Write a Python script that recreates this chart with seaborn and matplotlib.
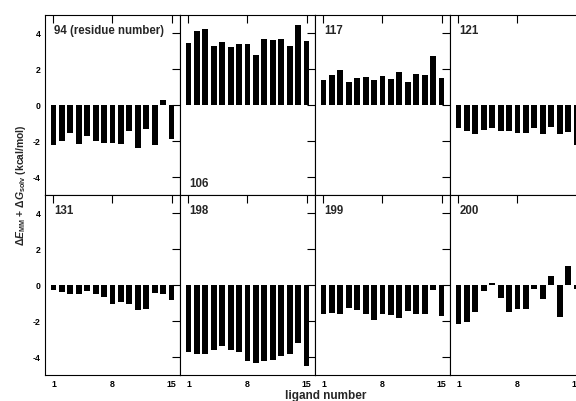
import numpy as np
import pandas as pd
import seaborn as sns
import matplotlib.pyplot as plt

# residue-wise energy contributions for ligands 1..15
ligands = list(range(1, 16))
residues = ["94", "106", "117", "121", "131", "198", "199", "200"]

r94 = [-2.21, -2.03, -1.55, -2.17, -1.73, -1.99, -2.12, -2.10, -2.19, -1.44, -2.38, -1.36, -2.21, 0.24, -1.92]
r106 = [3.43, 4.09, 4.19, 3.28, 3.46, 3.20, 3.39, 3.39, 2.78, 3.63, 3.57, 3.67, 3.24, 4.41, 3.56]
r117 = [1.39, 1.65, 1.93, 1.26, 1.46, 1.56, 1.39, 1.59, 1.43, 1.81, 1.24, 1.70, 1.65, 2.69, 1.46]
r121 = [-1.28, -1.44, -1.61, -1.41, -1.31, -1.44, -1.48, -1.56, -1.54, -1.28, -1.63, -1.26, -1.65, -1.52, -2.22]
r131 = [-0.28, -0.41, -0.50, -0.50, -0.35, -0.50, -0.68, -1.05, -0.94, -1.07, -1.38, -1.31, -0.44, -0.52, -0.83]
r198 = [-3.72, -3.81, -3.81, -3.59, -3.39, -3.63, -3.72, -4.22, -4.36, -4.20, -4.16, -3.94, -3.81, -3.22, -4.51]
r199 = [-1.64, -1.57, -1.64, -1.29, -1.42, -1.60, -1.92, -1.60, -1.68, -1.82, -1.47, -1.64, -1.64, -0.29, -1.71]
r200 = [-2.19, -2.04, -1.53, -0.35, 0.13, -0.72, -1.53, -1.33, -1.36, -0.22, -0.77, 0.48, -1.79, 1.07, -0.22]

panel_text = ["94 (residue number)", "106", "117", "121", "131", "198", "199", "200"]

sns.set_theme(style="white")
plt.rcParams['font.family'] = ['Liberation Sans', 'DejaVu Sans']
plt.rcParams['font.weight'] = 'bold'
plt.rcParams['axes.unicode_minus'] = False
plt.rcParams['mathtext.fontset'] = 'custom'
plt.rcParams['mathtext.rm'] = 'Liberation Sans:bold'
plt.rcParams['mathtext.it'] = 'Liberation Sans:italic:bold'
plt.rcParams['mathtext.bf'] = 'Liberation Sans:bold'

df = pd.DataFrame({"ligand": ligands * 8,
                   "residue": np.repeat(residues, 15),
                   "value": r94 + r106 + r117 + r121 + r131 + r198 + r199 + r200})

fig, axes = plt.subplots(2, 4, figsize=(5.76, 4.02), dpi=100, sharex=True, sharey=True)
fig.subplots_adjust(left=0.0781, right=1.0156, bottom=0.0647, top=0.961, wspace=0, hspace=0)

for i, ax in enumerate(axes.flat):
    sub = df[df["residue"] == residues[i]]
    sns.barplot(data=sub, x="ligand", y="value", native_scale=True, color="black",
                saturation=1, width=0.69, errorbar=None, edgecolor="black", linewidth=0, ax=ax)
    ax.set_xlim(0, 16)
    ax.set_ylim(-5, 5)
    ax.set_xticks([1, 8, 15])
    ax.set_yticks([-4, -2, 0, 2, 4])
    ax.set_xlabel("")
    ax.set_ylabel("")
    ax.tick_params(direction="in", top=True, right=True, length=5.5, width=0.8,
                   labelsize=6.3, pad=3, colors="black")
    for s in ax.spines.values():
        s.set_color("black")
        s.set_linewidth(0.8)
    if residues[i] == "106":
        ax.text(1.1, -4.0, panel_text[i], fontsize=8.3, fontweight="bold", va="top", ha="left")
    else:
        ax.text(1.1, 4.0, panel_text[i], fontsize=8.3, fontweight="bold", va="baseline", ha="left")
    ax.label_outer()

fig.text(0.036, 0.54, r"$\Delta\mathit{E}_{\mathrm{MM}}$ + $\Delta\mathit{G}_{\mathrm{solv}}$ (kcal/mol)",
         rotation=90, va="center", ha="center", fontsize=7.5, fontweight="bold")
fig.text(0.566, 0.014, "ligand number", ha="center", va="center", fontsize=8.5, fontweight="bold")

fig.savefig("out.png", dpi=100)
